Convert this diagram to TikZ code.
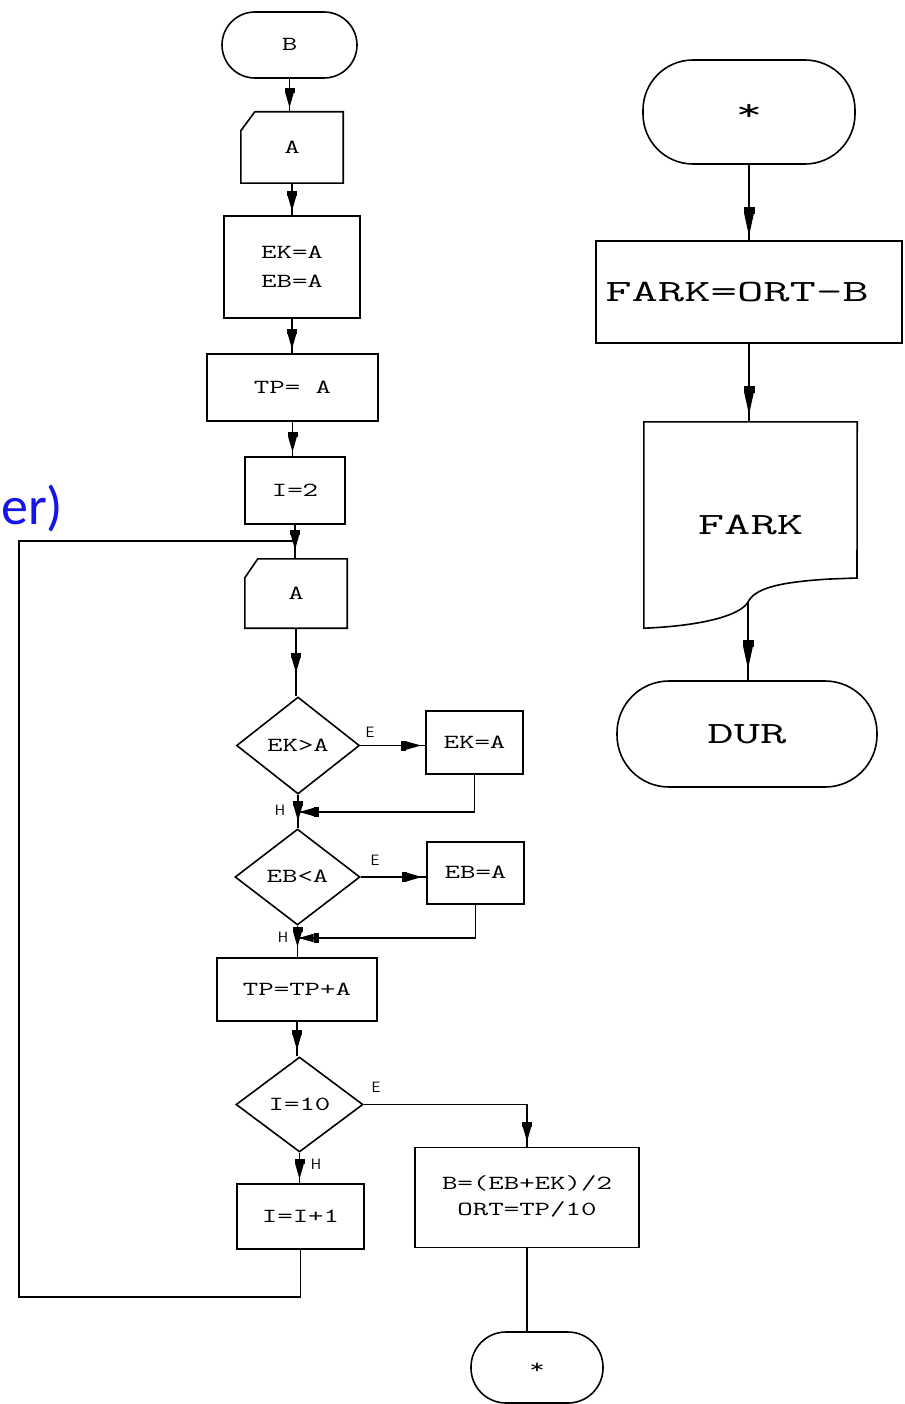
\documentclass[tikz,border=0pt]{standalone}
\usepackage{fontspec}
\usepackage{graphicx}
\usetikzlibrary{arrows.meta,decorations.markings,shapes.geometric}
\newfontfamily\notefont{Carlito}
\definecolor{notecol}{RGB}{20,20,235}
% wide typewriter lettering for the flowchart boxes
\newcommand{\ltxt}[2][29]{\scalebox{1.5}[1]{\fontsize{20}{#1}\selectfont\ttfamily\begin{tabular}{@{}c@{}}#2\end{tabular}}}
\newcommand{\rtxt}[1]{\scalebox{1.65}[1]{\fontsize{31}{36}\selectfont\ttfamily #1}}
\tikzset{
  hd/.tip={Rectangle[length=5pt,width=10pt]Triangle[length=15pt,width=8pt]},
  hdl/.tip={Rectangle[length=7pt,width=11pt]Triangle[length=22pt,width=9pt]},
  conn/.style={draw, line width=1.6pt},
  flow/.style={conn, postaction={decorate},
    decoration={markings, mark=at position -#1 with {\arrow{hd}}}},
  flow/.default=4pt,
  bigflow/.style={conn, postaction={decorate},
    decoration={markings, mark=at position -#1 with {\arrow{hdl}}}},
  box/.style={draw, rectangle, line width=1.6pt, inner sep=0pt},
  ghost/.style={rectangle, inner sep=0pt},
  term/.style={draw, rectangle, line width=1.6pt, inner sep=0pt, rounded corners=#1},
  cond/.style={draw, diamond, line width=1.6pt, inner sep=0pt},
  lbl/.style={inner sep=0pt, font=\sffamily\fontsize{15}{15}\selectfont},
}
\begin{document}
\begin{tikzpicture}[x=1pt,y=-1pt]
\useasboundingbox (0,0) rectangle (904,1404);
\fill[white] (0,0) rectangle (904,1404);

% ---------------- left column ----------------
\node[term=33pt, minimum width=135pt, minimum height=66pt] (b) at (289.5,45) {\ltxt{B}};

\node[ghost, minimum width=102pt, minimum height=71pt] (a1) at (292,147.5) {\ltxt{A}};
\draw[conn] ([yshift=-19pt]a1.north west) -- ([xshift=14pt]a1.north west) -- (a1.north east)
  -- (a1.south east) -- (a1.south west) -- cycle;

\node[box, minimum width=136pt, minimum height=102pt] (ek) at (292,267) {\ltxt{EK=A\\EB=A}};
\node[box, minimum width=171pt, minimum height=67pt] (tp) at (292.5,387.5) {\ltxt{TP= A}};
\node[box, minimum width=100pt, minimum height=67pt] (i2) at (295,490.5) {\ltxt{I=2}};

\node[ghost, minimum width=102pt, minimum height=69pt] (a2) at (296,593.5) {\ltxt{A}};
\draw[conn] ([yshift=-19pt]a2.north west) -- ([xshift=13pt]a2.north west) -- (a2.north east)
  -- (a2.south east) -- (a2.south west) -- cycle;

\node[cond, minimum width=123pt, minimum height=97pt] (d1) at (298,745.5) {\ltxt{EK>A}};
\node[box, minimum width=97pt, minimum height=63pt] (ekb) at (474.5,742.5) {\ltxt{EK=A}};
\node[cond, minimum width=125pt, minimum height=96pt] (d2) at (297.5,877) {\ltxt{EB<A}};
\node[box, minimum width=97pt, minimum height=62pt] (ebb) at (475.5,873) {\ltxt{EB=A}};
\node[box, minimum width=160pt, minimum height=63pt] (tpa) at (297,989.5) {\ltxt{TP=TP+A}};
\node[cond, minimum width=127pt, minimum height=95pt] (d3) at (299.5,1104.5) {\ltxt{I=10}};
\node[box, minimum width=127pt, minimum height=65pt] (inc) at (300.5,1216.5) {\ltxt{I=I+1}};
\node[box, minimum width=224pt, minimum height=100pt] (res) at (527,1197.5) {\ltxt[26]{B=(EB+EK)/2\\ORT=TP/10}};
\node[term=35pt, minimum width=132pt, minimum height=71pt] (end) at (537,1367.5) {\ltxt{*}};

% branch labels
\node[lbl] (e1) at (370,732) {E};
\node[lbl] (e2) at (375,860) {E};
\node[lbl] (e3) at (376,1087) {E};
\node[lbl] (n1) at (280,810) {H};
\node[lbl] (n2) at (283,937) {H};
\node[lbl] (n3) at (316,1164) {H};

% junctions and loop corners
\coordinate (h1) at (298,812);
\coordinate (h2) at (297.5,938);
\coordinate (jn) at (295,541);
\coordinate (lpb) at (19,1297);
\coordinate (lpt) at (19,541);

% connectors
\draw[flow] (b.south) -- (b.south |- a1.north);
\draw[flow] (a1.south) -- (a1.south |- ek.north);
\draw[flow] (ek.south) -- (ek.south |- tp.north);
\draw[flow] (tp.south) -- (tp.south |- i2.north);
\draw[flow=9pt] (i2.south) -- (i2.south |- a2.north);
\draw[flow=23pt] (a2.south) -- (a2.south |- d1.north);
\draw[flow=4pt] (d1.east) -- (d1.east -| ekb.west);
\draw[flow=7pt] (d1.south) -- (d1.south |- d2.north);
\draw[flow=1pt] (ekb.south) |- (h1);
\draw[flow=4pt] (d2.east) -- (d2.east -| ebb.west);
\draw[flow=10pt] (d2.south) -- (d2.south |- tpa.north);
\draw[flow=1pt] (ebb.south) |- (h2);
\draw[flow=6pt] (tpa.south) -- (tpa.south |- d3.north);
\draw[flow=4pt] (d3.south) -- (d3.south |- inc.north);
\draw[flow=5pt] (d3.east) -| (res.north);
\draw[conn] (res.south) -- (res.south |- end.north);
\draw[conn] (inc.south) |- (lpb) -- (lpt) -- (jn);

% ---------------- right column ----------------
\node[term=50pt, minimum width=212pt, minimum height=104pt] (star) at (749,112) {\rtxt{*}};
\node[box, minimum width=306pt, minimum height=102pt] (fark) at (749,292) {\hspace*{-24pt}\rtxt{FARK=ORT-B}};
\node[ghost, minimum width=213pt, minimum height=206pt] (doc) at (750.5,525) {\rtxt{FARK}};
\draw[conn] (doc.south west) -- (doc.north west) -- (doc.north east) -- (857,578)
  -- (830,579) .. controls (780,582) and (755,588) .. (748,602)
  .. controls (740,616) and (700,626) .. (doc.south west) -- cycle;
\coordinate (docout) at (748,602);
\node[term=52pt, minimum width=260pt, minimum height=106pt] (dur) at (747,734) {\rtxt{DUR}};

\draw[bigflow=4pt] (star.south) -- (star.south |- fark.north);
\draw[bigflow=7pt] (fark.south) -- (fark.south |- doc.north);
\draw[bigflow=11pt] (docout) -- (docout |- dur.north);

% margin note
\node[anchor=base west, inner sep=0pt, text=notecol, font=\notefont\fontsize{54}{54}\selectfont] (note) at (1,524) {er)};
\end{tikzpicture}
\end{document}
